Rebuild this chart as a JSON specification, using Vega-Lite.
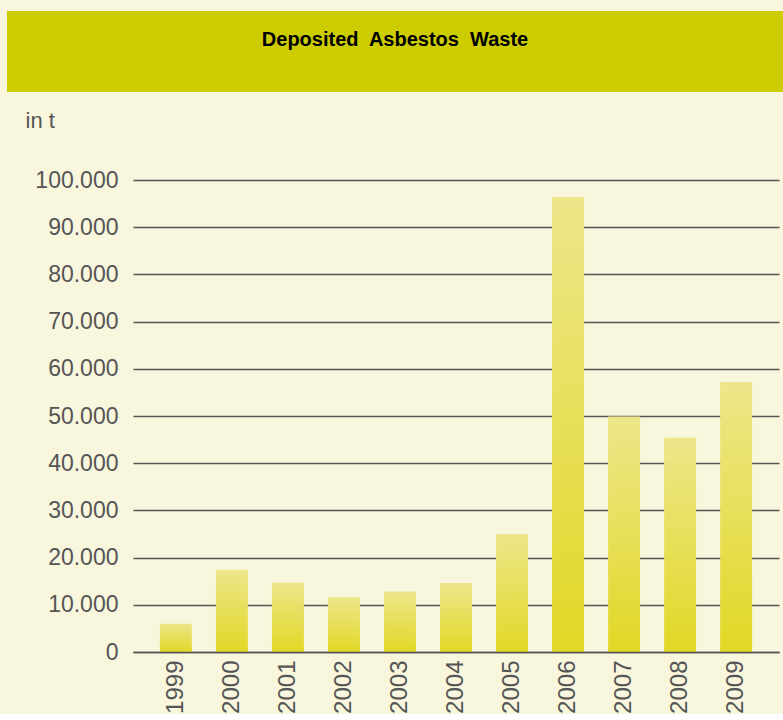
{
  "$schema": "https://vega.github.io/schema/vega-lite/v6.json",
  "background": "#f8f6dd",
  "padding": {"left": 7, "top": 11, "right": 0, "bottom": 0},
  "columns": 1,
  "spacing": 17,
  "config": {
    "view": {"stroke": null},
    "font": "Liberation Sans"
  },
  "concat": [
    {
      "width": 776,
      "height": 81,
      "view": {"fill": "#cdcc00", "stroke": null},
      "data": {"values": [{"label": "Deposited\u00a0 Asbestos\u00a0 Waste"}]},
      "mark": {"type": "text", "font": "Liberation Sans", "fontWeight": "bold", "fontSize": 20, "color": "#000000", "dy": -12},
      "encoding": {"text": {"field": "label"}}
    },
    {
      "width": 776,
      "height": 472,
      "data": {"values": [
        {"year": "1999", "tonnes": 6000},
        {"year": "2000", "tonnes": 17400},
        {"year": "2001", "tonnes": 14700},
        {"year": "2002", "tonnes": 11600},
        {"year": "2003", "tonnes": 12800},
        {"year": "2004", "tonnes": 14600},
        {"year": "2005", "tonnes": 25000},
        {"year": "2006", "tonnes": 96400},
        {"year": "2007", "tonnes": 49900},
        {"year": "2008", "tonnes": 45400},
        {"year": "2009", "tonnes": 57200}
      ]},
      "mark": {
        "type": "bar",
        "color": {"gradient": "linear", "x1": 0, "y1": 0, "x2": 0, "y2": 1,
          "stops": [{"offset": 0, "color": "#ede68a"}, {"offset": 1, "color": "#e1d826"}]}
      },
      "encoding": {
        "x": {
          "field": "year", "type": "ordinal",
          "scale": {"range": [126, 772], "paddingInner": 0.43, "paddingOuter": 0.48},
          "axis": {
            "title": null, "labelAngle": -90, "labelFontSize": 24, "labelColor": "#555555",
            "labelPadding": 8, "ticks": false, "domain": true, "domainColor": "#555555",
            "domainWidth": 1.5, "zindex": 1
          }
        },
        "y": {
          "field": "tonnes", "type": "quantitative",
          "scale": {"domain": [0, 100000], "nice": false},
          "axis": {
            "values": [0, 10000, 20000, 30000, 40000, 50000, 60000, 70000, 80000, 90000, 100000],
            "labelExpr": "replace(format(datum.value, ','), ',', '.')",
            "labelFontSize": 23, "labelColor": "#555555", "labelPadding": 15,
            "ticks": false, "domain": false, "offset": -126,
            "grid": true, "gridColor": "#555555", "gridWidth": 1.5,
            "title": "in t", "titleAngle": 0, "titleAlign": "left", "titleBaseline": "middle",
            "titleX": -108, "titleY": -60, "titleFontSize": 22, "titleFontWeight": "normal",
            "titleColor": "#555555"
          }
        }
      }
    }
  ]
}
